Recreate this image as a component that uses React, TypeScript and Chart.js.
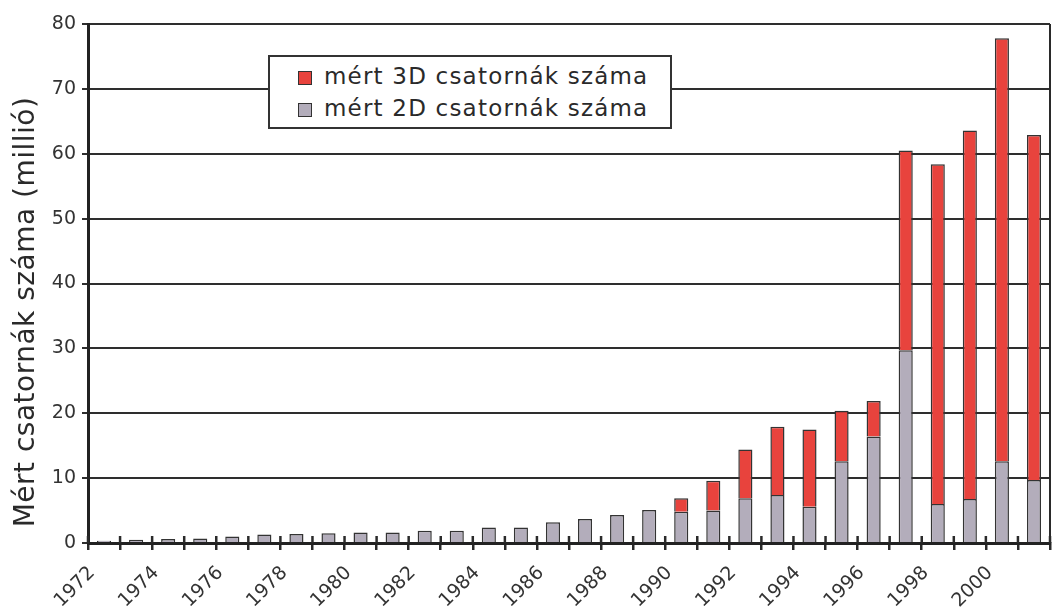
import React, { useEffect, useRef } from 'react';
import { Chart, registerables } from 'chart.js';
Chart.register(...registerables);

const years = [
  '1972', '1973', '1974', '1975', '1976', '1977', '1978', '1979', '1980', '1981',
  '1982', '1983', '1984', '1985', '1986', '1987', '1988', '1989', '1990', '1991',
  '1992', '1993', '1994', '1995', '1996', '1997', '1998', '1999', '2000', '2001',
];
const channels2D = [
  0.35, 0.5, 0.6, 0.7, 1.0, 1.3, 1.4, 1.5, 1.6, 1.6,
  1.9, 1.9, 2.4, 2.4, 3.2, 3.7, 4.3, 5.1, 4.8, 5.0,
  6.9, 7.4, 5.6, 12.6, 16.4, 29.7, 6.0, 6.8, 12.6, 9.7,
];
const channels3D = [
  0, 0, 0, 0, 0, 0, 0, 0, 0, 0,
  0, 0, 0, 0, 0, 0, 0, 0, 2.1, 4.6,
  7.5, 10.5, 11.9, 7.8, 5.5, 30.8, 52.4, 56.8, 65.2, 53.2,
];
const label2D = 'mért 2D csatornák száma';
const label3D = 'mért 3D csatornák száma';
const yTitle = 'Mért csatornák száma (millió)';

const RED = '#e8433d';
const GRAY = '#b3adbb';
const EDGE = '#333333';
const FONT = '"DejaVu Sans", sans-serif';

const decorPlugin = {
  id: 'decor',
  afterDraw(chart: any) {
    const { ctx, chartArea } = chart;
    const xs = chart.scales.x;
    const n = years.length;
    ctx.save();
    ctx.strokeStyle = '#2a2a2a';
    ctx.lineWidth = 2.5;
    // upper halves of x tick marks
    for (let i = 0; i <= n; i++) {
      const px = xs.left + (i * (xs.right - xs.left)) / n;
      ctx.beginPath();
      ctx.moveTo(px, chartArea.bottom - 7);
      ctx.lineTo(px, chartArea.bottom);
      ctx.stroke();
    }
    // right border
    ctx.lineWidth = 2;
    ctx.beginPath();
    ctx.moveTo(chartArea.right, chartArea.top);
    ctx.lineTo(chartArea.right, chartArea.bottom);
    ctx.stroke();
    // y title
    ctx.fillStyle = '#2a2a2a';
    ctx.font = `28px ${FONT}`;
    (ctx as any).letterSpacing = '0.5px';
    ctx.textAlign = 'center';
    ctx.textBaseline = 'middle';
    ctx.translate(27, 312);
    ctx.rotate(-Math.PI / 2);
    ctx.fillText(yTitle, 0, 0);
    ctx.restore();
  },
};

export default function App() {
  const ref = useRef<HTMLCanvasElement | null>(null);
  useEffect(() => {
    document.body.style.margin = '0';
    const chart = new Chart(ref.current as HTMLCanvasElement, {
      type: 'bar',
      data: {
        labels: years,
        datasets: [
          {
            label: label2D,
            data: channels2D,
            backgroundColor: GRAY,
            borderColor: EDGE,
            borderWidth: 1.5,
            barPercentage: 0.44,
            categoryPercentage: 1,
          },
          {
            label: label3D,
            data: channels3D,
            backgroundColor: RED,
            borderColor: EDGE,
            borderWidth: 1.5,
            barPercentage: 0.44,
            categoryPercentage: 1,
          },
        ],
      },
      options: {
        animation: false,
        responsive: false,
        maintainAspectRatio: false,
        layout: { padding: { top: 24, right: 2, left: 0, bottom: 0 } },
        plugins: {
          legend: { display: false },
          tooltip: { enabled: false },
        },
        scales: {
          x: {
            stacked: true,
            offset: true,
            afterFit: (s: any) => {
              s.height = 68;
              s.paddingLeft = 0;
              s.paddingRight = 0;
            },
            grid: {
              offset: true,
              drawOnChartArea: false,
              drawTicks: true,
              tickLength: 7,
              color: '#2a2a2a',
              lineWidth: 2.5,
            },
            border: { color: '#222', width: 3 },
            ticks: {
              autoSkip: false,
              minRotation: 45,
              maxRotation: 45,
              labelOffset: -12,
              padding: 12,
              color: '#333',
              font: { family: FONT, size: 19 },
              callback: (_v: any, i: number) => (i % 2 === 0 ? years[i] : ''),
            },
          },
          y: {
            stacked: true,
            min: 0,
            max: 80,
            afterFit: (s: any) => { s.width = 88; },
            grid: {
              color: '#2e2e2e',
              lineWidth: 2,
              tickLength: 6,
            },
            border: { color: '#222', width: 3 },
            ticks: {
              stepSize: 10,
              padding: 6,
              color: '#333',
              font: { family: FONT, size: 19 },
            },
          },
        },
      },
      plugins: [decorPlugin],
    });
    return () => chart.destroy();
  }, []);

  const swatch = (c: string) => ({
    display: 'inline-block',
    width: 14,
    height: 14,
    background: c,
    border: `1px solid ${EDGE}`,
    marginRight: 12,
    verticalAlign: 'middle',
    boxSizing: 'border-box' as const,
  });

  return (
    <div style={{ position: 'fixed', left: 0, top: 0, width: 1052, height: 611, background: '#fff' }}>
      <canvas ref={ref} width={1052} height={611} style={{ display: 'block' }} />
      <div
        style={{
          position: 'absolute',
          left: 268,
          top: 55,
          width: 404,
          height: 74,
          boxSizing: 'border-box',
          border: '2px solid #333',
          background: '#fff',
          fontFamily: FONT,
          fontSize: 23,
          letterSpacing: '1.2px',
          color: '#2a2a2a',
          padding: '3px 0 0 28px',
          lineHeight: '32px',
        }}
      >
        <div style={{ whiteSpace: 'nowrap' }}>
          <span style={swatch(RED)} />
          {label3D}
        </div>
        <div style={{ whiteSpace: 'nowrap' }}>
          <span style={swatch(GRAY)} />
          {label2D}
        </div>
      </div>
    </div>
  );
}
